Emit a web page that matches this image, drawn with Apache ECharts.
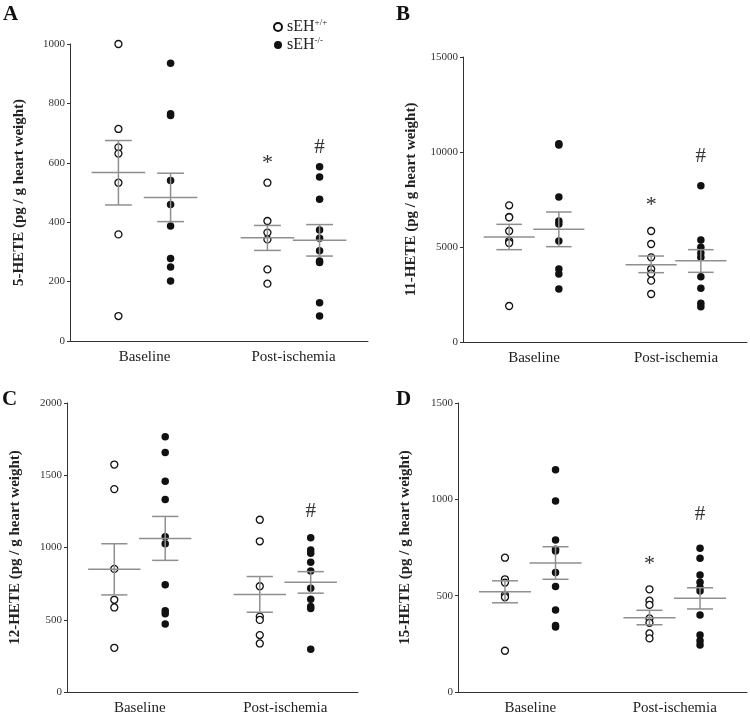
<!DOCTYPE html>
<html>
<head>
<meta charset="utf-8">
<script src="https://cdn.jsdelivr.net/npm/echarts@6/dist/echarts.min.js"></script>
<style>
html,body{margin:0;padding:0;background:#fff;}
#chart{width:750px;height:717px;}
</style>
</head>
<body>
<div id="chart"></div>
<script>
// ---------- data ----------
const categories = ['Baseline', 'Post-ischemia'];
const groups = ['sEH+/+', 'sEH-/-'];
const panelLetters = ['A', 'B', 'C', 'D'];
const yNames = ['5-HETE (pg / g heart weight)', '11-HETE (pg / g heart weight)',
                '12-HETE (pg / g heart weight)', '15-HETE (pg / g heart weight)'];
const yMax = [1000, 15000, 2000, 1500];
const yStep = [200, 5000, 500, 500];

// 5-HETE
const hete5_wt_base = [1000, 714, 652, 631, 533, 359, 84];
const hete5_ko_base = [935, 765, 759, 540, 460, 387, 278, 249, 202];
const hete5_wt_post = [533, 404, 365, 342, 241, 193];
const hete5_ko_post = [587, 552, 477, 374, 346, 304, 269, 264, 129, 84];
const hete5_mean = [567, 483, 348, 339];      // wt base, ko base, wt post, ko post
const hete5_semLow = [458, 402, 305, 286];
const hete5_semHigh = [675, 565, 389, 392];

// 11-HETE
const hete11_wt_base = [7193, 6580, 6560, 5842, 5316, 5210, 1895];
const hete11_ko_base = [10439, 10368, 7632, 6368, 6210, 5316, 3842, 3579, 2789];
const hete11_wt_post = [5842, 5158, 4456, 3842, 3596, 3228, 2526];
const hete11_ko_post = [8228, 5368, 4982, 4684, 4456, 3439, 2825, 2035, 1860];
const hete11_mean = [5526, 5930, 4070, 4281];
const hete11_semLow = [4860, 5018, 3649, 3667];
const hete11_semHigh = [6193, 6842, 4526, 4860];

// 12-HETE
const hete12_wt_base = [1574, 1404, 852, 638, 585, 306];
const hete12_ko_base = [1767, 1657, 1459, 1333, 1075, 1026, 743, 562, 541, 470];
const hete12_wt_post = [1192, 1043, 732, 522, 499, 394, 336];
const hete12_ko_post = [1068, 983, 960, 898, 838, 718, 642, 591, 578, 295];
const hete12_mean = [849, 1063, 674, 759];
const hete12_semLow = [672, 911, 552, 684];
const hete12_semHigh = [1026, 1215, 799, 833];

// 15-HETE
const hete15_wt_base = [697, 585, 568, 504, 492, 214];
const hete15_ko_base = [1153, 991, 789, 741, 732, 620, 547, 426, 345, 337];
const hete15_wt_post = [533, 474, 452, 382, 359, 304, 278];
const hete15_ko_post = [746, 694, 607, 569, 543, 524, 400, 296, 266, 244];
const hete15_mean = [520, 670, 386, 486];
const hete15_semLow = [463, 585, 349, 431];
const hete15_semHigh = [577, 754, 424, 541];

// significance marks: [categoryIndex, groupIndex, y value, symbol]
const marks5 = [[1, 0, 613, '*'], [1, 1, 653, '#']];
const marks11 = [[1, 0, 7421, '*'], [1, 1, 9789, '#']];
const marks12 = [[1, 1, 1246, '#']];
const marks15 = [[1, 0, 685, '*'], [1, 1, 919, '#']];

const panels = [
  {wb: hete5_wt_base, kb: hete5_ko_base, wp: hete5_wt_post, kp: hete5_ko_post, mean: hete5_mean, lo: hete5_semLow, hi: hete5_semHigh, marks: marks5},
  {wb: hete11_wt_base, kb: hete11_ko_base, wp: hete11_wt_post, kp: hete11_ko_post, mean: hete11_mean, lo: hete11_semLow, hi: hete11_semHigh, marks: marks11},
  {wb: hete12_wt_base, kb: hete12_ko_base, wp: hete12_wt_post, kp: hete12_ko_post, mean: hete12_mean, lo: hete12_semLow, hi: hete12_semHigh, marks: marks12},
  {wb: hete15_wt_base, kb: hete15_ko_base, wp: hete15_wt_post, kp: hete15_ko_post, mean: hete15_mean, lo: hete15_semLow, hi: hete15_semHigh, marks: marks15}
];

// ---------- layout ----------
const FONT = "'Liberation Serif', 'Times New Roman', serif";
const gridPos = [
  {left: 70, top: 44, width: 298, height: 297},
  {left: 463, top: 57, width: 284, height: 285},
  {left: 67, top: 403, width: 291, height: 289},
  {left: 458, top: 403, width: 289, height: 289}
];
const nameGaps = [43, 44, 44, 45];
const letterPos = [[3, 4], [396, 4], [2, 389], [396, 389]];
const OFF = 0.35;     // group offset in axis units
const catX = i => 1 + 2 * i;
const grpX = (c, g) => catX(c) + (g === 0 ? -OFF : OFF);
const GRAY = '#8f8f8f';

const grids = [], xAxes = [], yAxes = [], series = [];
panels.forEach((p, k) => {
  grids.push(Object.assign({containLabel: false}, gridPos[k]));
  xAxes.push({
    gridIndex: k, type: 'value', min: 0, max: 4, interval: 1,
    axisLine: {show: true, lineStyle: {color: '#333', width: 1}},
    axisTick: {show: false}, splitLine: {show: false},
    axisLabel: {
      color: '#222', fontFamily: FONT, fontSize: 15, margin: 9,
      formatter: v => v === 1 ? categories[0] : (v === 3 ? categories[1] : '')
    }
  });
  yAxes.push({
    gridIndex: k, type: 'value', min: 0, max: yMax[k], interval: yStep[k],
    axisLine: {show: true, lineStyle: {color: '#333', width: 1}},
    axisTick: {show: true, length: 3, lineStyle: {color: '#333'}},
    splitLine: {show: false},
    axisLabel: {color: '#333', fontFamily: FONT, fontSize: 11, margin: 5, formatter: v => String(v)},
    name: yNames[k], nameLocation: 'middle', nameGap: nameGaps[k],
    nameTextStyle: {fontFamily: FONT, fontSize: 15, fontWeight: 'bold', color: '#222'}
  });
  const wt = p.wb.map(v => [grpX(0, 0), v]).concat(p.wp.map(v => [grpX(1, 0), v]));
  const ko = p.kb.map(v => [grpX(0, 1), v]).concat(p.kp.map(v => [grpX(1, 1), v]));
  series.push({
    name: groups[0], type: 'scatter', xAxisIndex: k, yAxisIndex: k, data: wt,
    symbol: 'circle', symbolSize: 7, z: 2,
    itemStyle: {color: '#fff', borderColor: '#111', borderWidth: 1.3, opacity: 1},
    emphasis: {disabled: true}
  });
  series.push({
    name: groups[1], type: 'scatter', xAxisIndex: k, yAxisIndex: k, data: ko,
    symbol: 'circle', symbolSize: 7.5, z: 2,
    itemStyle: {color: '#111', borderColor: '#111', borderWidth: 0, opacity: 1},
    emphasis: {disabled: true}
  });
  // mean +/- SEM
  const stats = [];
  [[0, 0], [0, 1], [1, 0], [1, 1]].forEach(([c, g], i) => {
    stats.push([grpX(c, g), p.mean[i], p.lo[i], p.hi[i]]);
  });
  series.push({
    type: 'custom', xAxisIndex: k, yAxisIndex: k, data: stats, z: 5, silent: true,
    encode: {x: 0, y: [1, 2, 3]},
    renderItem: (params, api) => {
      const x = api.value(0);
      const m = api.coord([x, api.value(1)]);
      const lo = api.coord([x, api.value(2)]);
      const hi = api.coord([x, api.value(3)]);
      const hw = api.size([0.36, 0])[0];
      const cw = api.size([0.18, 0])[0];
      const st = {stroke: GRAY, lineWidth: 1.5};
      return {type: 'group', children: [
        {type: 'line', shape: {x1: m[0] - hw, y1: m[1], x2: m[0] + hw, y2: m[1]}, style: st},
        {type: 'line', shape: {x1: m[0], y1: lo[1], x2: m[0], y2: hi[1]}, style: st},
        {type: 'line', shape: {x1: m[0] - cw, y1: lo[1], x2: m[0] + cw, y2: lo[1]}, style: st},
        {type: 'line', shape: {x1: m[0] - cw, y1: hi[1], x2: m[0] + cw, y2: hi[1]}, style: st}
      ]};
    }
  });
  // significance marks
  series.push({
    type: 'custom', xAxisIndex: k, yAxisIndex: k, z: 6, silent: true,
    data: p.marks.map(d => [grpX(d[0], d[1]), d[2], d[3]]),
    renderItem: (params, api) => {
      const pt = api.coord([api.value(0), api.value(1)]);
      const sym = p.marks[params.dataIndex][3];
      const star = sym === '*';
      return {type: 'text', x: pt[0], y: pt[1] + (star ? 4 : 0), style: {
        text: sym, fill: '#333', font: (star ? '22px ' : '21px ') + FONT,
        textAlign: 'center', textVerticalAlign: 'middle'
      }};
    }
  });
});

const graphics = panelLetters.map((t, i) => ({
  type: 'text', left: letterPos[i][0], top: letterPos[i][1],
  style: {text: t, font: 'bold 21px ' + FONT, fill: '#111'}
}));

const chart = echarts.init(document.getElementById('chart'), null, {renderer: 'canvas'});
chart.setOption({
  backgroundColor: '#fff',
  animation: false,
  grid: grids, xAxis: xAxes, yAxis: yAxes, series: series,
  graphic: graphics,
  legend: {
    data: groups, orient: 'vertical', left: 268, top: 13, itemWidth: 8, itemHeight: 8,
    itemGap: 1, icon: 'circle', selectedMode: false,
    formatter: n => n === groups[0] ? 'sEH{sup|+/+}' : 'sEH{sup|-/-}',
    textStyle: {
      fontFamily: FONT, fontSize: 16, color: '#222',
      rich: {sup: {fontFamily: FONT, fontSize: 9, color: '#222', padding: [0, 0, 9, 0]}}
    }
  }
});
</script>
</body>
</html>
